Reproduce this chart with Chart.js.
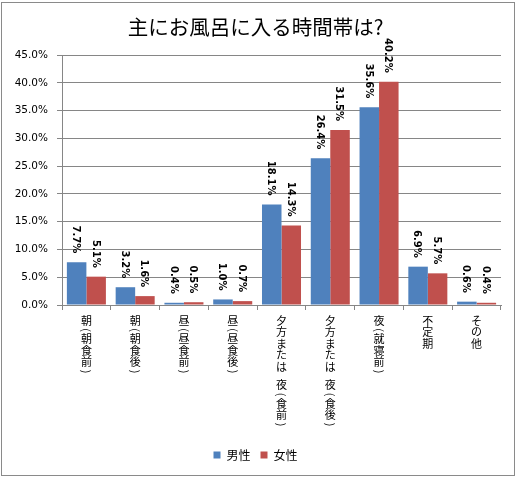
<!DOCTYPE html>
<html>
<head>
<meta charset="utf-8">
<script src="https://cdn.jsdelivr.net/npm/chart.js@4"></script>
<style>
html,body{margin:0;padding:0;background:#fff;}
#wrap{width:517px;height:478px;position:relative;}
</style>
</head>
<body>
<div id="wrap"><canvas id="c" width="517" height="478"></canvas></div>
<script>
const titleText = '主にお風呂に入る時間帯は?';
const categories = ['朝(朝食前)','朝(朝食後)','昼(昼食前)','昼(昼食後)','夕方または 夜(食前)','夕方または 夜(食後)','夜(就寝前)','不定期','その他'];
const seriesNames = ['男性','女性'];
const maleValues = [7.7, 3.2, 0.4, 1.0, 18.1, 26.4, 35.6, 6.9, 0.6];
const femaleValues = [5.1, 1.6, 0.5, 0.7, 14.3, 31.5, 40.2, 5.7, 0.4];
const yTicks = [0,5,10,15,20,25,30,35,40,45];

const GRID = '#868686';

const borderPlugin = {
  id: 'outerBorder',
  beforeDraw(chart) {
    const ctx = chart.ctx;
    ctx.save();
    ctx.fillStyle = '#fff';
    ctx.fillRect(0,0,chart.width,chart.height);
    ctx.strokeStyle = '#8a8a8a';
    ctx.lineWidth = 1;
    ctx.strokeRect(1.5, 2.5, 513, 473);
    ctx.restore();
  }
};

const xLabelPlugin = {
  id: 'verticalXLabels',
  afterDraw(chart) {
    const ctx = chart.ctx;
    const xs = chart.scales.x;
    ctx.save();
    ctx.fillStyle = '#000';
    ctx.font = '11px "Noto Sans CJK JP"';
    categories.forEach((label, i) => {
      const x = xs.getPixelForValue(i);
      let y = 315;
      for (const ch of label) {
        if (ch === '(' || ch === ')') {
          ctx.save();
          ctx.translate(x, y + 3.5);
          ctx.rotate(Math.PI / 2);
          ctx.textAlign = 'center';
          ctx.textBaseline = 'middle';
          ctx.fillText(ch, 0, 0);
          ctx.restore();
          y += 7;
        } else if (ch === ' ') {
          y += 7;
        } else {
          ctx.textAlign = 'center';
          ctx.textBaseline = 'middle';
          ctx.fillText(ch, x, y + 5.75);
          y += 11.5;
        }
      }
    });
    ctx.restore();
  }
};

const dataLabelPlugin = {
  id: 'rotatedDataLabels',
  afterDatasetsDraw(chart) {
    const ctx = chart.ctx;
    ctx.save();
    ctx.fillStyle = '#000';
    ctx.font = 'bold 10px "DejaVu Sans"';
    chart.data.datasets.forEach((ds, di) => {
      const meta = chart.getDatasetMeta(di);
      meta.data.forEach((bar, i) => {
        const txt = ds.data[i].toFixed(1) + '%';
        ctx.save();
        ctx.translate(bar.x - 1, bar.y - 9);
        ctx.rotate(Math.PI / 2);
        ctx.textAlign = 'right';
        ctx.textBaseline = 'middle';
        ctx.fillText(txt, 0, 0);
        ctx.restore();
      });
    });
    ctx.restore();
  }
};

new Chart(document.getElementById('c'), {
  type: 'bar',
  data: {
    labels: categories,
    datasets: [
      { label: seriesNames[0], data: maleValues, backgroundColor: '#4F81BD', borderWidth: 0 },
      { label: seriesNames[1], data: femaleValues, backgroundColor: '#C0504D', borderWidth: 0 }
    ]
  },
  options: {
    responsive: false,
    animation: false,
    devicePixelRatio: 1,
    layout: { padding: { left: 10, right: 16, top: 0, bottom: 7 } },
    datasets: { bar: { categoryPercentage: 0.8, barPercentage: 1.0 } },
    plugins: {
      title: {
        display: true,
        text: titleText,
        color: '#000',
        font: { family: '"Noto Sans CJK JP"', size: 20.5, weight: 'normal', lineHeight: 1.2 },
        padding: { top: 15, bottom: 15.4 }
      },
      legend: {
        position: 'bottom',
        labels: {
          boxWidth: 7, boxHeight: 7, padding: 10,
          color: '#000',
          font: { family: '"Noto Sans CJK JP"', size: 12 }
        }
      },
      tooltip: { enabled: false }
    },
    scales: {
      y: {
        min: 0, max: 45,
        afterFit(s) { s.width = 52; },
        afterBuildTicks(s) { s.ticks = yTicks.map(v => ({ value: v })); },
        ticks: {
          padding: 9,
          color: '#000',
          font: { family: '"DejaVu Sans"', size: 10.5 },
          callback: v => Number(v).toFixed(1) + '%'
        },
        grid: { color: GRID, tickLength: 5, lineWidth: 1 },
        border: { color: GRID }
      },
      x: {
        afterFit(s) { s.height = 134; },
        ticks: { display: false },
        grid: { drawOnChartArea: false, drawTicks: true, tickLength: 5, color: GRID, offset: true },
        border: { color: GRID }
      }
    }
  },
  plugins: [borderPlugin, dataLabelPlugin, xLabelPlugin]
});
</script>
</body>
</html>
